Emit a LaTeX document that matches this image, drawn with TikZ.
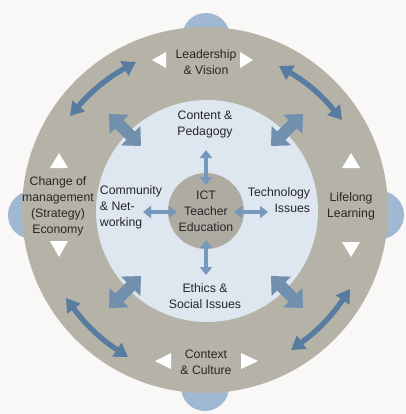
\documentclass[tikz,border=0pt]{standalone}
\usepackage{fontspec}
\setmainfont{Liberation Sans}
\usepackage{xcolor}
\usetikzlibrary{arrows.meta}

\definecolor{paper}{RGB}{250,247,247}
\definecolor{ringgray}{RGB}{181,179,168}
\definecolor{coregray}{RGB}{174,172,162}
\definecolor{paleblue}{RGB}{222,230,240}
\definecolor{bumpblue}{RGB}{160,184,210}
\definecolor{arrowblue}{RGB}{88,124,160}
\definecolor{smallblue}{RGB}{118,152,188}

\begin{document}
\begin{tikzpicture}[x=0.75pt,y=0.75pt,yscale=-1,xscale=1,
  txt/.style={inner sep=0.75pt,align=center,text=black!85,font=\fontsize{9.2}{12}\selectfont},
  tri/.style={fill=white,draw=none},
  bigarrow/.style={draw=arrowblue,line width=4pt,{Triangle[width=12pt,length=10pt]}-{Triangle[width=12pt,length=10pt]}},
  fatarrow/.style={draw=arrowblue!85,line width=9pt,{Triangle[width=20pt,length=11pt]}-{Triangle[width=20pt,length=11pt]}},
  smallarrow/.style={draw=smallblue,line width=3.2pt,{Triangle[width=9pt,length=6pt]}-{Triangle[width=9pt,length=6pt]}}]

\useasboundingbox (0,0) rectangle (406,414);

\fill[paper] (0,0) rectangle (406,414);

\fill[bumpblue] (206,37) circle (24);
\fill[bumpblue] (32,215) circle (24);
\fill[bumpblue] (380,215) circle (24);
\fill[bumpblue] (205,387) circle (24);

\fill[ringgray] (205,210) circle (183);

\fill[paleblue] (207,211) circle (111);

\draw (206,211) node (ict) [circle,fill=coregray,minimum size=57pt,txt] {ICT\\Teacher\\Education};

\fill[tri] (152,60) -- (166,52) -- (166,68) -- cycle;
\fill[tri] (253,60) -- (240,52) -- (240,68) -- cycle;
\fill[tri] (59,153) -- (68,168) -- (50,168) -- cycle;
\fill[tri] (59,257) -- (68,241) -- (50,241) -- cycle;
\fill[tri] (351,153) -- (360,168) -- (342,168) -- cycle;
\fill[tri] (351,257) -- (360,242) -- (342,242) -- cycle;
\fill[tri] (155,361) -- (171,353) -- (171,369) -- cycle;
\fill[tri] (258,361) -- (241,353) -- (241,369) -- cycle;

\coordinate (nwa) at (70,116);
\coordinate (nwb) at (136,62);
\coordinate (nea) at (279,66);
\coordinate (neb) at (342,120);
\coordinate (swa) at (66,298);
\coordinate (swb) at (128,357);
\coordinate (sea) at (291,350);
\coordinate (seb) at (350,289);

\draw[bigarrow] (nwa) to[bend right=10] (nwb);
\draw[bigarrow] (nea) to[bend right=10] (neb);
\draw[bigarrow] (swa) to[bend left=10] (swb);
\draw[bigarrow] (sea) to[bend left=10] (seb);

\coordinate (nwo) at (109,114);
\coordinate (nwi) at (141,146);
\coordinate (neo) at (303,114);
\coordinate (nei) at (271,146);
\coordinate (swo) at (109,308);
\coordinate (swi) at (141,276);
\coordinate (seo) at (303,308);
\coordinate (sei) at (271,276);

\draw[fatarrow] (nwo) -- (nwi);
\draw[fatarrow] (neo) -- (nei);
\draw[fatarrow] (swo) -- (swi);
\draw[fatarrow] (seo) -- (sei);

\coordinate (up1) at (206,150);
\coordinate (up2) at (206,185);
\coordinate (dn1) at (206,240);
\coordinate (dn2) at (206,275);
\coordinate (lf1) at (143,212);
\coordinate (lf2) at (177,212);
\coordinate (rt1) at (234,212);
\coordinate (rt2) at (268,212);

\draw[smallarrow] (up1) -- (up2);
\draw[smallarrow] (dn1) -- (dn2);
\draw[smallarrow] (lf1) -- (lf2);
\draw[smallarrow] (rt1) -- (rt2);

\draw (206,62) node (lead) [txt] {Leadership\\\& Vision};

\draw (205,124) node (content) [txt] {Content \&\\Pedagogy};

\draw (131,207) node (comm) [txt,align=left] {Community\\\& Net-\\working};

\draw (279,200) node (tech) [txt,align=right] {Technology\\Issues};

\draw (58,206) node (change) [txt] {Change of\\management\\(Strategy)\\Economy};

\draw (351,206) node (life) [txt] {Lifelong\\Learning};

\draw (205,296) node (ethics) [txt] {Ethics \&\\Social Issues};

\draw (206,362) node (context) [txt] {Context\\\& Culture};

\end{tikzpicture}
\end{document}
